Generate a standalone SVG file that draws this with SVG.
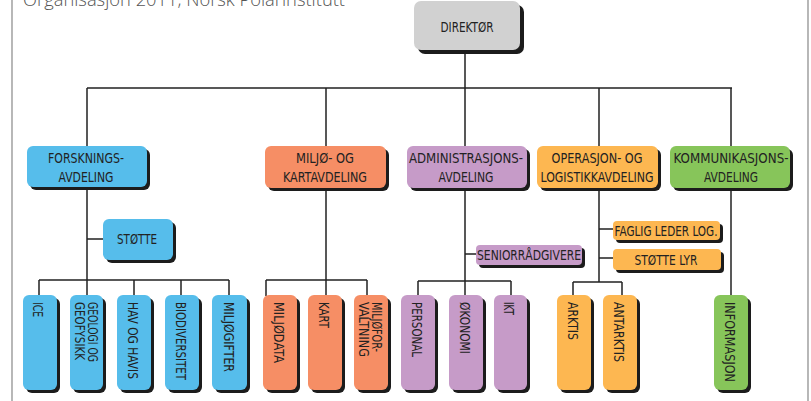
<svg xmlns="http://www.w3.org/2000/svg" width="811" height="401" viewBox="0 0 811 401">
<defs>
<style>
.sh{fill:#1c1c1c}
.t{font-family:"Liberation Sans Narrow","DejaVu Sans Condensed","Liberation Sans",sans-serif;font-size:14.5px;fill:#222;text-anchor:middle}
.v{font-family:"Liberation Sans Narrow","DejaVu Sans Condensed","Liberation Sans",sans-serif;font-size:13.5px;fill:#222}
.blue{fill:#56BDEB}.orange{fill:#F68E65}.purple{fill:#C69BC8}.yellow{fill:#FDB751}.green{fill:#87C55A}.grey{fill:#D1D1D1}
.ln{stroke:#222;stroke-width:1.5;fill:none}
.border{stroke:#888;stroke-width:1.2;fill:none}
</style>
</defs>
<rect width="811" height="401" fill="#fff"/>
<line class="border" x1="12" y1="0" x2="12" y2="401"/>
<line class="border" x1="808" y1="0" x2="808" y2="401"/>
<text x="23" y="6" font-family="'Open Sans','Liberation Sans',sans-serif" font-size="18" font-weight="300" fill="#555" textLength="322" lengthAdjust="spacingAndGlyphs">Organisasjon 2011, Norsk Polarinstitutt</text>

<g id="connectors">
<path class="ln" d="M465 50V88M87 88H732M87 88V146M326 88V146M465 88V146M599 88V146M731 88V146"/>
<path class="ln" d="M87 187V280M87 239H103M39 280H229M39 280V296M87 280V296M134 280V296M181 280V296M229 280V296"/>
<path class="ln" d="M326 188V280M266 280H367M266 280V296M326 280V296M367 280V296"/>
<path class="ln" d="M465 188V281M465 254H476M418 281H511M418 281V296M465 281V296M511 281V296"/>
<path class="ln" d="M599 188V282M599 229H613M599 258H613M573 282H622M573 282V296M622 282V296"/>
<path class="ln" d="M731 188V296"/>
</g>

<g id="direktor">
<rect class="sh" x="418" y="5" width="106" height="49" rx="7"/>
<rect class="grey" x="414" y="1" width="106" height="49" rx="7"/>
<text class="t" x="467" y="32" textLength="53" lengthAdjust="spacingAndGlyphs">DIREKTØR</text>
</g>

<g id="forskning">
<rect class="sh" x="30" y="149" width="120" height="41" rx="6"/>
<rect class="blue" x="27" y="146" width="120" height="41" rx="6"/>
<text class="t" x="86" y="163" textLength="76" lengthAdjust="spacingAndGlyphs">FORSKNINGS-</text>
<text class="t" x="86" y="182" textLength="55" lengthAdjust="spacingAndGlyphs">AVDELING</text>
</g>

<g id="miljo">
<rect class="sh" x="268" y="149" width="121" height="42" rx="6"/>
<rect class="orange" x="265" y="146" width="121" height="42" rx="6"/>
<text class="t" x="325" y="163" textLength="58" lengthAdjust="spacingAndGlyphs">MILJØ- OG</text>
<text class="t" x="325" y="182" textLength="84" lengthAdjust="spacingAndGlyphs">KARTAVDELING</text>
</g>

<g id="admin">
<rect class="sh" x="410" y="149" width="120" height="42" rx="6"/>
<rect class="purple" x="407" y="146" width="120" height="42" rx="6"/>
<text class="t" x="466" y="163" textLength="114" lengthAdjust="spacingAndGlyphs">ADMINISTRASJONS-</text>
<text class="t" x="466" y="182" textLength="55" lengthAdjust="spacingAndGlyphs">AVDELING</text>
</g>

<g id="operasjon">
<rect class="sh" x="540" y="149" width="121" height="42" rx="6"/>
<rect class="yellow" x="537" y="146" width="121" height="42" rx="6"/>
<text class="t" x="597" y="163" textLength="91" lengthAdjust="spacingAndGlyphs">OPERASJON- OG</text>
<text class="t" x="597" y="182" textLength="113" lengthAdjust="spacingAndGlyphs">LOGISTIKKAVDELING</text>
</g>

<g id="kommunikasjon">
<rect class="sh" x="673" y="149" width="120" height="42" rx="6"/>
<rect class="green" x="670" y="146" width="120" height="42" rx="6"/>
<text class="t" x="731" y="163" textLength="115" lengthAdjust="spacingAndGlyphs">KOMMUNIKASJONS-</text>
<text class="t" x="731" y="182" textLength="54" lengthAdjust="spacingAndGlyphs">AVDELING</text>
</g>

<g id="stotte">
<rect class="sh" x="106" y="222" width="70" height="41" rx="6"/>
<rect class="blue" x="103" y="219" width="70" height="41" rx="6"/>
<text class="t" x="137" y="244" textLength="40" lengthAdjust="spacingAndGlyphs">STØTTE</text>
</g>

<g id="seniorradgivere">
<rect class="sh" x="479" y="248" width="106" height="20" rx="4"/>
<rect class="purple" x="476" y="245" width="106" height="20" rx="4"/>
<text class="t" x="529" y="260" textLength="104" lengthAdjust="spacingAndGlyphs">SENIORRÅDGIVERE</text>
</g>

<g id="faglig">
<rect class="sh" x="616" y="224" width="107" height="19" rx="4"/>
<rect class="yellow" x="613" y="221" width="107" height="19" rx="4"/>
<text class="t" x="666" y="236" textLength="103" lengthAdjust="spacingAndGlyphs">FAGLIG LEDER LOG.</text>
</g>

<g id="stottelyr">
<rect class="sh" x="616" y="252" width="108" height="21" rx="4"/>
<rect class="yellow" x="613" y="249" width="108" height="21" rx="4"/>
<text class="t" x="666" y="265" textLength="63" lengthAdjust="spacingAndGlyphs">STØTTE LYR</text>
</g>

<g id="ice">
<rect class="sh" x="26" y="298" width="34" height="95" rx="6"/>
<rect class="blue" x="23" y="295" width="34" height="95" rx="6"/>
<text class="v" transform="translate(38 302) rotate(90)" y="5" textLength="15" lengthAdjust="spacingAndGlyphs">ICE</text>
</g>
<g id="geologi">
<rect class="sh" x="73" y="298" width="33" height="95" rx="6"/>
<rect class="blue" x="70" y="295" width="33" height="95" rx="6"/>
<text class="v" transform="translate(86 302) rotate(90)"><tspan x="0" y="-2" textLength="60" lengthAdjust="spacingAndGlyphs">GEOLOGI OG</tspan><tspan x="0" y="11.5" textLength="58" lengthAdjust="spacingAndGlyphs">GEOFYSIKK</tspan></text>
</g>
<g id="hav">
<rect class="sh" x="120" y="298" width="34" height="95" rx="6"/>
<rect class="blue" x="117" y="295" width="34" height="95" rx="6"/>
<text class="v" transform="translate(133 302) rotate(90)" y="5" textLength="77" lengthAdjust="spacingAndGlyphs">HAV OG HAVIS</text>
</g>
<g id="biodiversitet">
<rect class="sh" x="168" y="298" width="34" height="95" rx="6"/>
<rect class="blue" x="165" y="295" width="34" height="95" rx="6"/>
<text class="v" transform="translate(181 302) rotate(90)" y="5" textLength="78" lengthAdjust="spacingAndGlyphs">BIODIVERSITET</text>
</g>
<g id="miljogifter">
<rect class="sh" x="215" y="298" width="35" height="95" rx="6"/>
<rect class="blue" x="212" y="295" width="35" height="95" rx="6"/>
<text class="v" transform="translate(229 302) rotate(90)" y="5" textLength="70" lengthAdjust="spacingAndGlyphs">MILJØGIFTER</text>
</g>

<g id="miljodata">
<rect class="sh" x="266" y="298" width="34" height="95" rx="6"/>
<rect class="orange" x="263" y="295" width="34" height="95" rx="6"/>
<text class="v" transform="translate(279 302) rotate(90)" y="5" textLength="61" lengthAdjust="spacingAndGlyphs">MILJØDATA</text>
</g>
<g id="kart">
<rect class="sh" x="311" y="298" width="34" height="95" rx="6"/>
<rect class="orange" x="308" y="295" width="34" height="95" rx="6"/>
<text class="v" transform="translate(324 302) rotate(90)" y="5" textLength="26" lengthAdjust="spacingAndGlyphs">KART</text>
</g>
<g id="miljoforvaltning">
<rect class="sh" x="357" y="298" width="34" height="95" rx="6"/>
<rect class="orange" x="354" y="295" width="34" height="95" rx="6"/>
<text class="v" transform="translate(370 302) rotate(90)"><tspan x="0" y="-2" textLength="50" lengthAdjust="spacingAndGlyphs">MILJØFOR-</tspan><tspan x="0" y="11.5" textLength="55" lengthAdjust="spacingAndGlyphs">VALTNING</tspan></text>
</g>

<g id="personal">
<rect class="sh" x="404" y="298" width="34" height="95" rx="6"/>
<rect class="purple" x="401" y="295" width="34" height="95" rx="6"/>
<text class="v" transform="translate(417 302) rotate(90)" y="5" textLength="55" lengthAdjust="spacingAndGlyphs">PERSONAL</text>
</g>
<g id="okonomi">
<rect class="sh" x="452" y="298" width="34" height="95" rx="6"/>
<rect class="purple" x="449" y="295" width="34" height="95" rx="6"/>
<text class="v" transform="translate(465 302) rotate(90)" y="5" textLength="52" lengthAdjust="spacingAndGlyphs">ØKONOMI</text>
</g>
<g id="ikt">
<rect class="sh" x="497" y="298" width="33" height="95" rx="6"/>
<rect class="purple" x="494" y="295" width="33" height="95" rx="6"/>
<text class="v" transform="translate(509 302) rotate(90)" y="5" textLength="13" lengthAdjust="spacingAndGlyphs">IKT</text>
</g>

<g id="arktis">
<rect class="sh" x="560" y="298" width="34" height="95" rx="6"/>
<rect class="yellow" x="557" y="295" width="34" height="95" rx="6"/>
<text class="v" transform="translate(573 302) rotate(90)" y="5" textLength="38" lengthAdjust="spacingAndGlyphs">ARKTIS</text>
</g>
<g id="antarktis">
<rect class="sh" x="606" y="298" width="34" height="95" rx="6"/>
<rect class="yellow" x="603" y="295" width="34" height="95" rx="6"/>
<text class="v" transform="translate(619 302) rotate(90)" y="5" textLength="60" lengthAdjust="spacingAndGlyphs">ANTARKTIS</text>
</g>

<g id="informasjon">
<rect class="sh" x="717" y="298" width="34" height="95" rx="6"/>
<rect class="green" x="714" y="295" width="34" height="95" rx="6"/>
<text class="v" transform="translate(730 302) rotate(90)" y="5" textLength="80" lengthAdjust="spacingAndGlyphs">INFORMASJON</text>
</g>
</svg>
